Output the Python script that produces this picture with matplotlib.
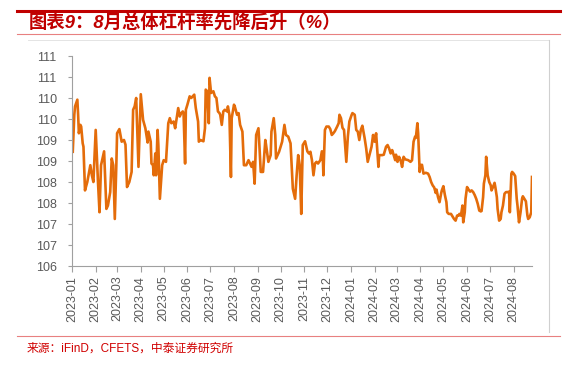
import numpy as np
import pandas as pd
import matplotlib
matplotlib.use('Agg')
import matplotlib.pyplot as plt
import matplotlib.dates as mdates
from matplotlib.lines import Line2D
from matplotlib.ticker import FuncFormatter

plt.rcParams['font.family'] = ['Liberation Sans', 'Noto Sans CJK SC', 'DejaVu Sans']

# overall leverage ratio (%)
dates_2023 = [
    '01-02', '01-04', '01-05', '01-08', '01-09', '01-10', '01-12', '01-13', '01-15', '01-16',
    '01-18', '01-21', '01-25', '01-27', '01-29', '02-01', '02-04', '02-06', '02-08', '02-12',
    '02-15', '02-17', '02-20', '02-22', '02-24', '02-26', '02-28', '03-01', '03-04', '03-07',
    '03-10', '03-12', '03-13', '03-14', '03-17', '03-20', '03-22', '03-24', '03-26', '03-29',
    '04-01', '04-04', '04-07', '04-10', '04-11', '04-12', '04-14', '04-15', '04-17', '04-18',
    '04-20', '04-21', '04-23', '04-24', '04-26', '04-28', '04-29', '05-01', '05-04', '05-05',
    '05-07', '05-09', '05-11', '05-14', '05-16', '05-18', '05-20', '05-22', '05-24', '05-26',
    '05-27', '05-29', '05-30', '06-01', '06-04', '06-06', '06-08', '06-10', '06-12', '06-15',
    '06-16', '06-18', '06-22', '06-24', '06-25', '06-27', '06-29', '06-30', '07-02', '07-05',
    '07-07', '07-09', '07-11', '07-13', '07-14', '07-16', '07-18', '07-20', '07-23', '07-24',
    '07-26', '07-28', '07-29', '08-01', '08-02', '08-05', '08-07', '08-09', '08-12', '08-14',
    '08-17', '08-20', '08-24', '08-26', '08-28', '08-30', '09-02', '09-03', '09-05', '09-08',
    '09-11', '09-12', '09-15', '09-18', '09-19', '09-22', '09-24', '09-25', '09-29', '10-03',
    '10-06', '10-08', '10-11', '10-14', '10-17', '10-20', '10-22', '10-24', '10-26', '10-28',
    '10-30', '11-02', '11-05', '11-07', '11-09', '11-11', '11-13', '11-15', '11-17', '11-19',
    '11-22', '11-24', '11-25', '11-26', '11-28', '11-30', '12-03', '12-05', '12-07', '12-09',
    '12-11', '12-14', '12-16', '12-17', '12-19', '12-21', '12-23', '12-26', '12-28', '12-30',
]
lev_2023 = [
    108.72, 109.60, 109.80, 109.96, 109.60, 109.16, 109.36, 109.32, 108.92, 108.84,
    107.80, 108.00, 108.40, 108.16, 108.00, 109.24, 108.00, 107.28, 108.40, 108.73,
    107.36, 107.44, 107.76, 108.56, 108.40, 107.12, 108.40, 109.16, 109.26, 108.96,
    109.00, 108.89, 108.40, 107.88, 108.00, 108.24, 109.72, 109.80, 110.00, 108.36,
    110.09, 109.48, 109.28, 108.94, 109.20, 109.12, 108.96, 108.44, 108.40, 108.16,
    108.68, 108.16, 109.24, 108.88, 107.60, 108.16, 108.40, 108.52, 108.48, 108.80,
    109.40, 109.52, 109.40, 109.44, 109.28, 109.52, 109.76, 109.56, 109.64, 109.68,
    109.64, 108.44, 109.72, 109.84, 110.04, 110.00, 110.04, 110.08, 109.76, 109.44,
    108.96, 109.00, 108.97, 109.28, 110.20, 110.16, 109.40, 110.48, 110.12, 110.16,
    110.04, 110.00, 109.68, 109.64, 109.60, 109.36, 109.68, 109.72, 109.68, 109.80,
    109.60, 108.12, 109.52, 109.84, 109.80, 109.60, 109.64, 109.36, 109.20, 108.40,
    108.40, 108.52, 108.36, 108.48, 107.96, 109.12, 109.28, 108.96, 108.24, 108.24,
    109.00, 108.88, 108.48, 108.64, 109.20, 109.52, 109.12, 108.56, 108.72, 108.96,
    109.36, 109.12, 109.08, 108.92, 107.84, 107.60, 108.16, 108.64, 108.40, 107.24,
    108.88, 108.97, 108.73, 108.68, 108.72, 108.52, 108.16, 108.44, 108.48, 108.44,
    108.52, 108.73, 108.72, 108.16, 109.24, 109.32, 109.32, 109.26, 109.12, 109.16,
    109.21, 109.32, 109.40, 109.60, 109.52, 109.29, 109.24, 108.48, 109.08, 109.44,
]
dates_2024 = [
    '01-02', '01-03', '01-06', '01-08', '01-10', '01-12', '01-14', '01-16', '01-19', '01-21',
    '01-23', '01-26', '01-28', '01-30', '02-01', '02-03', '02-04', '02-06', '02-07', '02-11',
    '02-13', '02-16', '02-18', '02-20', '02-22', '02-24', '02-26', '02-28', '02-29', '03-02',
    '03-04', '03-06', '03-08', '03-10', '03-12', '03-16', '03-19', '03-21', '03-23', '03-25',
    '03-26', '03-28', '03-29', '03-31', '04-01', '04-03', '04-05', '04-08', '04-11', '04-13',
    '04-15', '04-17', '04-19', '04-21', '04-22', '04-24', '04-26', '04-28', '04-29', '05-01',
    '05-03', '05-05', '05-06', '05-08', '05-11', '05-13', '05-15', '05-17', '05-19', '05-21',
    '05-22', '05-24', '05-26', '05-27', '05-29', '05-30', '06-01', '06-03', '06-05', '06-07',
    '06-09', '06-11', '06-13', '06-15', '06-17', '06-19', '06-20', '06-22', '06-23', '06-25',
    '06-26', '06-28', '06-30', '07-02', '07-03', '07-05', '07-07', '07-08', '07-10', '07-11',
    '07-13', '07-15', '07-16', '07-18', '07-20', '07-22', '07-24', '07-26', '07-27', '07-29',
    '07-30', '08-01', '08-03', '08-05', '08-06', '08-08', '08-10', '08-12', '08-13', '08-15',
    '08-17', '08-19', '08-20', '08-22', '08-24', '08-25',
]
lev_2024 = [
    109.60, 109.64, 109.60, 109.24, 109.20, 109.00, 109.24, 109.34, 109.04, 108.80,
    108.48, 108.70, 108.84, 109.12, 108.96, 109.16, 108.88, 108.36, 108.64, 108.64,
    108.65, 108.84, 108.88, 108.80, 108.68, 108.76, 108.64, 108.52, 108.65, 108.48,
    108.60, 108.52, 108.36, 108.60, 108.54, 108.52, 108.48, 108.52, 108.96, 109.08,
    109.05, 109.40, 109.16, 108.24, 108.40, 108.41, 108.20, 108.22, 108.20, 108.12,
    108.00, 107.92, 107.87, 107.74, 107.82, 107.64, 107.52, 107.72, 107.80, 107.90,
    107.69, 107.52, 107.28, 107.24, 107.24, 107.18, 107.12, 107.08, 107.20, 107.20,
    107.24, 107.20, 107.44, 107.04, 107.28, 107.60, 107.88, 107.82, 107.77, 107.80,
    107.76, 107.69, 107.60, 107.48, 107.32, 107.30, 107.31, 107.64, 107.96, 108.16,
    108.60, 108.16, 108.00, 107.92, 107.80, 107.88, 107.98, 107.88, 107.64, 107.36,
    107.08, 107.12, 107.28, 107.44, 107.72, 107.76, 107.76, 107.77, 107.28, 108.20,
    108.24, 108.20, 108.14, 107.60, 107.44, 107.04, 107.28, 107.60, 107.66, 107.60,
    107.54, 107.20, 107.12, 107.16, 107.28, 108.12,
]

dates = pd.to_datetime(['2023-' + d for d in dates_2023] + ['2024-' + d for d in dates_2024])
values = lev_2023 + lev_2024

fig = plt.figure(figsize=(5.71, 3.67), dpi=100)
ax = fig.add_axes([0.1261, 0.2752, 0.8056, 0.5722])
ax.plot(dates, values, color='#E46C0A', lw=1.9, solid_joinstyle='round')

# y labels are rounded half-up, so 110.5 shows as 111 etc.
ax.set_ylim(106, 111)
ax.set_yticks(np.arange(106, 111.01, 0.5))
ax.yaxis.set_major_formatter(FuncFormatter(lambda v, p: '%d' % np.floor(v + 0.5)))

ax.set_xlim(pd.Timestamp('2023-01-01'), dates[-1])
ax.xaxis.set_major_locator(mdates.MonthLocator())
ax.xaxis.set_major_formatter(mdates.DateFormatter('%Y-%m'))
plt.setp(ax.get_xticklabels(), rotation=90)

grey = '#A0A0A0'
ax.spines['right'].set_visible(False)
ax.spines['top'].set_visible(False)
ax.spines['left'].set_color(grey)
ax.spines['bottom'].set_color(grey)
ax.tick_params(axis='y', colors=grey, labelcolor='#595959', labelsize=9, length=3, pad=8)
ax.tick_params(axis='x', colors=grey, labelcolor='#595959', labelsize=9, length=4, pad=3)

# report frame: red rules, title and source line
red = '#C00000'
fig.add_artist(Line2D([0.030, 0.981], [0.970, 0.970], color=red, lw=2.2))
fig.add_artist(Line2D([0.030, 0.981], [0.907, 0.907], color='#E88080', lw=0.8))
fig.add_artist(Line2D([0.030, 0.981], [0.0845, 0.0845], color='#E88080', lw=0.8))
fig.add_artist(Line2D([0.049, 0.9615], [0.891, 0.891], color='#E4E4E4', lw=0.7))
fig.add_artist(Line2D([0.9615, 0.9615], [0.0954, 0.891], color='#D0D0D0', lw=0.8))

fig.text(0.050, 0.940, '图表9：8月总体杠杆率先降后升（%）', color=red, fontsize=13.2,
         fontweight='bold', style='italic', va='center', ha='left')
fig.text(0.047, 0.049, '来源：iFinD，CFETS，中泰证券研究所', color='#D00000', fontsize=8.5,
         va='center', ha='left')

fig.savefig('out.png', dpi=100)
